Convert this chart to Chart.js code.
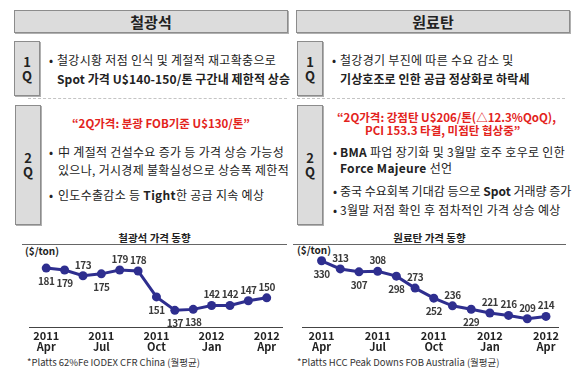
<!DOCTYPE html>
<html>
<head>
<meta charset="utf-8">
<script src="https://cdn.jsdelivr.net/npm/chart.js@4.4.0/dist/chart.umd.min.js"></script>
<style>
body { margin:0; width:580px; height:371px; background:#fff; position:relative; overflow:hidden;
  font-family:'Noto Sans CJK KR', sans-serif; color:#222; }
.t { position:absolute; white-space:nowrap; line-height:16px; font-size:12px; letter-spacing:0.3px; }
.b { font-weight:bold; letter-spacing:0.1px; }
.red { color:#e3231c; font-weight:bold; font-size:11.5px; letter-spacing:0; }
.head { position:absolute; top:10px; height:21px; width:272px; background:#dcdcdc; border:1px solid #8c8c8c;
  box-shadow:1px 1px 0 #b0b0b0; text-align:center; font-weight:bold; font-size:15px; line-height:21px; }
.q { position:absolute; width:24px; background:#dcdcdc; border:1px solid #8c8c8c; box-shadow:1px 1px 0 #b0b0b0;
  font-weight:bold; font-size:13px; text-align:center; line-height:14px; display:flex; flex-direction:column; justify-content:center; }
.dash { position:absolute; top:98px; height:0; border-top:1px dashed #c4c4c4; }
.uline { position:absolute; top:244px; height:0; border-top:1px solid #666; }
.ctitle { position:absolute; top:230px; font-weight:bold; font-size:10.5px; text-align:center; line-height:16px; }
.unit { position:absolute; font-weight:bold; font-size:10px; line-height:14px; }
.note { position:absolute; top:355px; font-size:9.5px; line-height:14px; color:#333; white-space:nowrap; }
.box { position:absolute; }
</style>
</head>
<body>
<!-- left column -->
<div class="head" style="left:14px">철광석</div>
<div class="q" style="left:14px;top:41px;height:53px">1<br>Q</div>
<div class="t" style="left:49px;top:52px">•</div>
<div class="t" style="left:57px;top:52px">철강시황 저점 인식 및 계절적 재고확충으로</div>
<div class="t b" style="left:57px;top:71px">Spot 가격 U$140-150/톤 구간내 제한적 상승</div>
<div class="dash" style="left:28px;width:259px"></div>
<div class="q" style="left:15px;top:105px;height:118px">2<br>Q</div>
<div class="t red" style="left:72px;top:115px">“2Q가격: 분광 FOB기준 U$130/톤”</div>
<div class="t" style="left:49px;top:144px">•</div>
<div class="t" style="left:58px;top:144px">中 계절적 건설수요 증가 등 가격 상승 가능성</div>
<div class="t" style="left:58px;top:162px">있으나, 거시경제 불확실성으로 상승폭 제한적</div>
<div class="t" style="left:49px;top:187px">•</div>
<div class="t" style="left:58px;top:187px">인도수출감소 등 <b>Tight</b>한 공급 지속 예상</div>

<!-- right column -->
<div class="head" style="left:296px">원료탄</div>
<div class="q" style="left:297px;top:41px;height:53px">1<br>Q</div>
<div class="t" style="left:332px;top:52px">•</div>
<div class="t" style="left:340px;top:52px">철강경기 부진에 따른 수요 감소 및</div>
<div class="t b" style="left:340px;top:71px">기상호조로 인한 공급 정상화로 하락세</div>
<div class="dash" style="left:292px;width:273px"></div>
<div class="q" style="left:297px;top:105px;height:118px">2<br>Q</div>
<div class="t red" style="left:337px;top:109px">“2Q가격: 강점탄 U$206/톤(△12.3%QoQ),</div>
<div class="t red" style="left:365px;top:122px">PCI 153.3 타결, 미점탄 협상중”</div>
<div class="t" style="left:333px;top:144px">•</div>
<div class="t" style="left:340px;top:144px"><b>BMA</b> 파업 장기화 및 3월말 호주 호우로 인한</div>
<div class="t" style="left:340px;top:160px"><b>Force Majeure</b> 선언</div>
<div class="t" style="left:333px;top:183px">•</div>
<div class="t" style="left:340px;top:183px;letter-spacing:0">중국 수요회복 기대감 등으로 <b>Spot</b> 거래량 증가</div>
<div class="t" style="left:333px;top:202px">•</div>
<div class="t" style="left:340px;top:202px">3월말 저점 확인 후 점차적인 가격 상승 예상</div>

<!-- charts -->
<div class="ctitle" style="left:22px;width:265px">철광석 가격 동향</div>
<div class="uline" style="left:22px;width:265px"></div>
<div class="unit" style="left:25px;top:244px">($/ton)</div>
<div class="box" style="left:25px;top:240px"><canvas id="ore" width="262" height="115"></canvas></div>
<div class="note" style="left:27px">*Platts 62%Fe IODEX CFR China (월평균)</div>

<div class="ctitle" style="left:293px;width:273px">원료탄 가격 동향</div>
<div class="uline" style="left:293px;width:273px"></div>
<div class="unit" style="left:297px;top:243px">($/ton)</div>
<div class="box" style="left:298px;top:240px"><canvas id="coal" width="265" height="115"></canvas></div>
<div class="note" style="left:297px">*Platts HCC Peak Downs FOB Australia (월평균)</div>

<script>
// monthly averages, 2011 Apr - 2012 Apr
var months = ['2011-04','2011-05','2011-06','2011-07','2011-08','2011-09','2011-10',
              '2011-11','2011-12','2012-01','2012-02','2012-03','2012-04'];
var ironOre = [181, 179, 173, 175, 179, 178, 151, 137, 138, 142, 142, 147, 150];
var cokingCoal = [330, 313, 307, 308, 298, 273, 252, 236, 229, 221, 216, 209, 214];
var tickLabels = [['2011','Apr'], ['2011','Jul'], ['2011','Oct'], ['2012','Jan'], ['2012','Apr']];

// which side of the point each value label sits
var oreSides = ['dn','dn','up','dn','up','up','dn','dn','dn','up','up','up','up'];
var coalSides = ['dn','up','dn','up','dn','up','dn','up','dn','up','up','up','up'];

var lineColor = '#2e2e8f';
var fontFam = "'Noto Sans CJK KR', sans-serif";

var valueLabels = {
  id: 'valueLabels',
  afterDatasetsDraw(chart, args, opts) {
    var ctx = chart.ctx;
    var meta = chart.getDatasetMeta(0);
    var ds = chart.data.datasets[0];
    ctx.save();
    ctx.font = 'bold 10px ' + fontFam;
    ctx.letterSpacing = '-0.5px';
    ctx.fillStyle = '#3a3a3a';
    ctx.textAlign = 'center';
    ctx.textBaseline = 'middle';
    meta.data.forEach(function(pt, i) {
      var dy = opts.sides[i] === 'up' ? -11 : 13;
      ctx.fillText(ds.data[i].y, pt.x, pt.y + dy);
    });
    ctx.restore();
  }
};

function makeChart(id, values, sides, xmin, xmax, ymin, ymax) {
  var pts = values.map(function(v, i) { return {x: i, y: v}; });
  return new Chart(document.getElementById(id), {
    type: 'line',
    data: {
      labels: months,
      datasets: [{
        data: pts,
        borderColor: lineColor,
        backgroundColor: lineColor,
        borderWidth: 3,
        pointRadius: 4.5,
        pointBorderWidth: 0,
        tension: 0,
        clip: false
      }]
    },
    options: {
      responsive: false,
      animation: false,
      layout: { padding: { top: 16, left: 0, right: 0, bottom: 0 } },
      plugins: {
        legend: { display: false },
        tooltip: { enabled: false },
        valueLabels: { sides: sides }
      },
      scales: {
        x: {
          type: 'linear',
          min: xmin, max: xmax,
          grid: { display: false, drawTicks: false },
          border: { display: true, color: '#444', width: 1 },
          ticks: {
            stepSize: 3,
            includeBounds: false,
            autoSkip: false,
            maxRotation: 0,
            padding: 2,
            color: '#222',
            font: { family: fontFam, size: 11, weight: 'bold', lineHeight: 1.05 },
            callback: function(v) {
              var k = v / 3;
              return tickLabels[k] || '';
            }
          }
        },
        y: { display: false, min: ymin, max: ymax }
      }
    },
    plugins: [valueLabels]
  });
}

makeChart('ore', ironOre, oreSides, -0.91, 12.86, 118.7, 193.6);
makeChart('coal', cokingCoal, coalSides, -1.02, 12.67, 190, 340);
</script>
</body>
</html>
